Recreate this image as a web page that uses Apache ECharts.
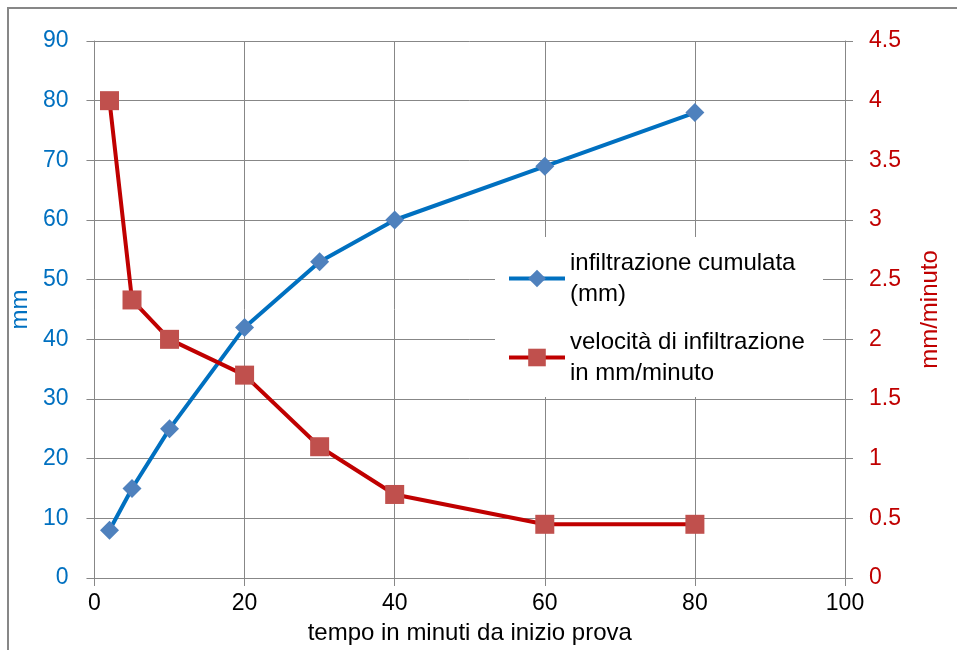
<!DOCTYPE html>
<html>
<head>
<meta charset="utf-8">
<script src="https://cdn.jsdelivr.net/npm/echarts@6/dist/echarts.min.js"></script>
<style>html,body{margin:0;padding:0;background:#fff}#c{width:957px;height:650px}</style>
</head>
<body>
<div id="c"></div>
<script>
const timeMinutes = [2, 5, 10, 20, 30, 40, 60, 80];
const cumulativeMm = [8, 15, 25, 42, 53, 60, 69, 78];
const rateMmPerMin = [4, 2.33, 2, 1.7, 1.1, 0.7, 0.45, 0.45];
const seriesNames = ['infiltrazione cumulata\n(mm)', 'velocità di infiltrazione\nin mm/minuto'];
const xAxisName = 'tempo in minuti da inizio prova';
const leftAxisName = 'mm';
const rightAxisName = 'mm/minuto';

const FONT = 'Liberation Sans';
const GRID = '#878787';
const chart = echarts.init(document.getElementById('c'), null, {renderer: 'canvas'});
const pairs = (xs, ys) => xs.map((x, i) => [x, ys[i]]);

chart.setOption({
  animation: false,
  backgroundColor: '#fff',
  textStyle: {fontFamily: FONT},
  grid: {left: 93, right: 112, top: 41, bottom: 72, containLabel: false},
  graphic: [
    {type: 'rect', z: 0, silent: true, shape: {x: 8, y: 8, width: 1000, height: 1000},
     style: {fill: null, stroke: GRID, lineWidth: 2}},
    {type: 'rect', z: 1, silent: true, shape: {x: 495, y: 237, width: 328, height: 160},
     style: {fill: '#fff', stroke: null}}
  ],
  xAxis: {
    type: 'value', min: 0, max: 100, interval: 20,
    name: xAxisName, nameLocation: 'middle', nameGap: 43,
    nameTextStyle: {color: '#000', fontSize: 24, fontFamily: FONT},
    axisLine: {show: true, lineStyle: {color: GRID, width: 1}},
    axisTick: {show: true, length: 8, lineStyle: {color: GRID}},
    axisLabel: {color: '#000', fontSize: 23, margin: 14, fontFamily: FONT},
    splitLine: {show: true, lineStyle: {color: GRID, width: 1}}
  },
  yAxis: [
    {
      type: 'value', min: 0, max: 90, interval: 10, position: 'left',
      name: leftAxisName, nameLocation: 'middle', nameRotate: 90, nameGap: 42,
      nameTextStyle: {color: '#0070C0', fontSize: 24, fontFamily: FONT},
      axisLine: {show: true, lineStyle: {color: GRID, width: 1}},
      axisTick: {show: true, length: 8, lineStyle: {color: GRID}},
      axisLabel: {color: '#0070C0', fontSize: 23, margin: 26, fontFamily: FONT},
      splitLine: {show: true, lineStyle: {color: GRID, width: 1}}
    },
    {
      type: 'value', min: 0, max: 4.5, interval: 0.5, position: 'right',
      name: rightAxisName, nameLocation: 'middle', nameRotate: 90, nameGap: 73,
      nameTextStyle: {color: '#C00000', fontSize: 24, fontFamily: FONT},
      axisLine: {show: true, lineStyle: {color: GRID, width: 1}},
      axisTick: {show: true, length: 8, lineStyle: {color: GRID}},
      axisLabel: {color: '#C00000', fontSize: 23, margin: 24, fontFamily: FONT},
      splitLine: {show: false}
    }
  ],
  legend: {
    orient: 'vertical', left: 507, top: 232, padding: 0, itemGap: -14,
    itemWidth: 56, itemHeight: 22, backgroundColor: 'transparent',
    lineStyle: {width: 4},
    textStyle: {color: '#000', fontSize: 24, lineHeight: 31, fontFamily: FONT, padding: [31, 0, 0, 0]},
    data: seriesNames
  },
  series: [
    {
      name: seriesNames[0], type: 'line', yAxisIndex: 0,
      data: pairs(timeMinutes, cumulativeMm),
      symbol: 'diamond', symbolSize: 19, showSymbol: true,
      lineStyle: {color: '#0070C0', width: 4},
      itemStyle: {color: '#4F81BD', borderWidth: 0}
    },
    {
      name: seriesNames[1], type: 'line', yAxisIndex: 1,
      data: pairs(timeMinutes, rateMmPerMin),
      symbol: 'rect', symbolSize: 19, showSymbol: true,
      lineStyle: {color: '#C00000', width: 4},
      itemStyle: {color: '#C0504D', borderWidth: 0}
    }
  ]
});
</script>
</body>
</html>
